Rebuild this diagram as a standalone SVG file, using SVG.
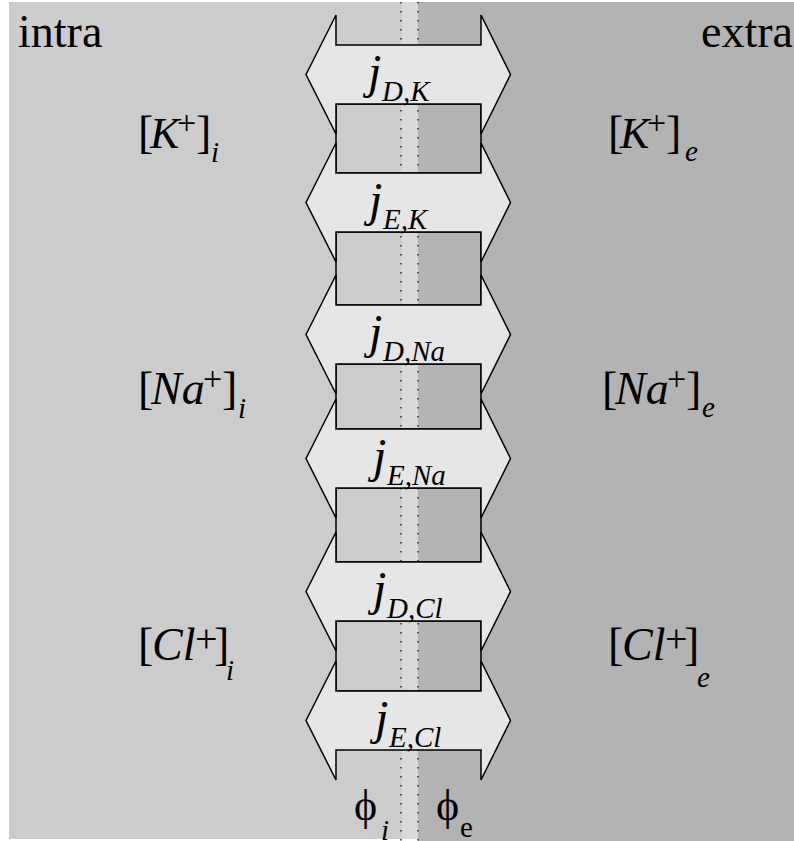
<svg xmlns="http://www.w3.org/2000/svg" width="794" height="841" viewBox="0 0 794 841">
<style>
.t{font-family:"Liberation Serif","Times New Roman",serif;fill:#000}
.it{font-style:italic}
.arrow{fill:#e6e6e6;stroke:#000;stroke-width:1.5;stroke-linejoin:miter}
.box{fill:none;stroke:#000;stroke-width:1.5}
.dot{stroke:#333;stroke-width:1.6;stroke-dasharray:1.6 7.4;fill:none}
.j{font-size:48px}
.sub{font-size:29px}
</style>
<defs>
<path id="arr" d="M306,0 L336,-59.5 L336,-29.5 L481,-29.5 L481,-59.5 L510.5,0 L481,59.5 L481,29.5 L336,29.5 L336,59.5 Z"/>
</defs>
<rect width="794" height="841" fill="#fff"/>
<g id="background">
<rect x="9" y="2" width="409" height="837" fill="#cccccc"/>
<rect x="418" y="2" width="376" height="839" fill="#b3b3b3"/>
<rect x="401" y="2" width="17" height="837" fill="#d9d9d9"/>
<line class="dot" x1="401" y1="2" x2="401" y2="841"/>
<line class="dot" x1="418" y1="2" x2="418" y2="841"/>
</g>
<g id="connectors">
<rect class="box" x="336" y="104" width="145" height="69"/>
<rect class="box" x="336" y="232" width="145" height="73"/>
<rect class="box" x="336" y="364" width="145" height="65"/>
<rect class="box" x="336" y="488" width="145" height="74"/>
<rect class="box" x="336" y="621" width="145" height="70"/>
</g>
<g id="jDK"><use href="#arr" class="arrow" transform="translate(0,74.5)"/>
<text class="t it j" x="368" y="88">j</text><text class="t it sub" x="382" y="101">D,K</text></g>
<g id="jEK"><use href="#arr" class="arrow" transform="translate(0,202.5)"/>
<text class="t it j" x="369" y="216">j</text><text class="t it sub" x="383" y="229">E,K</text></g>
<g id="jDNa"><use href="#arr" class="arrow" transform="translate(0,334.5)"/>
<text class="t it j" x="369" y="348">j</text><text class="t it sub" x="383" y="361">D,Na</text></g>
<g id="jENa"><use href="#arr" class="arrow" transform="translate(0,458.5)"/>
<text class="t it j" x="373" y="472">j</text><text class="t it sub" x="387" y="485">E,Na</text></g>
<g id="jDCl"><use href="#arr" class="arrow" transform="translate(0,591.5)"/>
<text class="t it j" x="373" y="605">j</text><text class="t it sub" x="387" y="618">D,Cl</text></g>
<g id="jECl"><use href="#arr" class="arrow" transform="translate(0,720.5)"/>
<text class="t it j" x="375" y="734">j</text><text class="t it sub" x="389" y="747">E,Cl</text></g>
<g id="intra"><text class="t" x="18" y="47" font-size="46">intra</text></g>
<g id="extra"><text class="t" x="793" y="47" font-size="46" text-anchor="end">extra</text></g>
<g id="Ki"><text class="t" x="138" y="148" font-size="46">[</text><text class="t it" x="150" y="148" font-size="44">K</text><text class="t" x="177" y="134" font-size="34">+</text><text class="t" x="196" y="148" font-size="46">]</text><text class="t it" x="211" y="162" font-size="29">i</text></g>
<g id="Ke"><text class="t" x="608" y="148" font-size="46">[</text><text class="t it" x="620" y="148" font-size="44">K</text><text class="t" x="647" y="134" font-size="34">+</text><text class="t" x="666" y="148" font-size="46">]</text><text class="t it" x="685" y="161" font-size="29">e</text></g>
<g id="Nai"><text class="t" x="138" y="404" font-size="46">[</text><text class="t it" x="151" y="404" font-size="46">Na</text><text class="t" x="203" y="390" font-size="34">+</text><text class="t" x="222" y="404" font-size="46">]</text><text class="t it" x="238" y="418" font-size="29">i</text></g>
<g id="Nae"><text class="t" x="602" y="404" font-size="46">[</text><text class="t it" x="615" y="404" font-size="46">Na</text><text class="t" x="667" y="390" font-size="34">+</text><text class="t" x="686" y="404" font-size="46">]</text><text class="t it" x="702" y="417" font-size="29">e</text></g>
<g id="Cli"><text class="t" x="138" y="660" font-size="46">[</text><text class="t it" x="152" y="660" font-size="46">Cl</text><text class="t" x="195" y="652" font-size="40">+</text><text class="t" x="214" y="660" font-size="46">]</text><text class="t it" x="226" y="680" font-size="29">i</text></g>
<g id="Cle"><text class="t" x="608" y="660" font-size="46">[</text><text class="t it" x="622" y="660" font-size="46">Cl</text><text class="t" x="665" y="652" font-size="40">+</text><text class="t" x="684" y="660" font-size="46">]</text><text class="t it" x="697" y="687" font-size="29">e</text></g>
<g id="phii"><text class="t" x="354" y="820" font-size="44">ϕ</text><text class="t it" x="381" y="840" font-size="29">i</text></g>
<g id="phie"><text class="t" x="436" y="820" font-size="44">ϕ</text><text class="t" x="460" y="837" font-size="29">e</text></g>
</svg>
